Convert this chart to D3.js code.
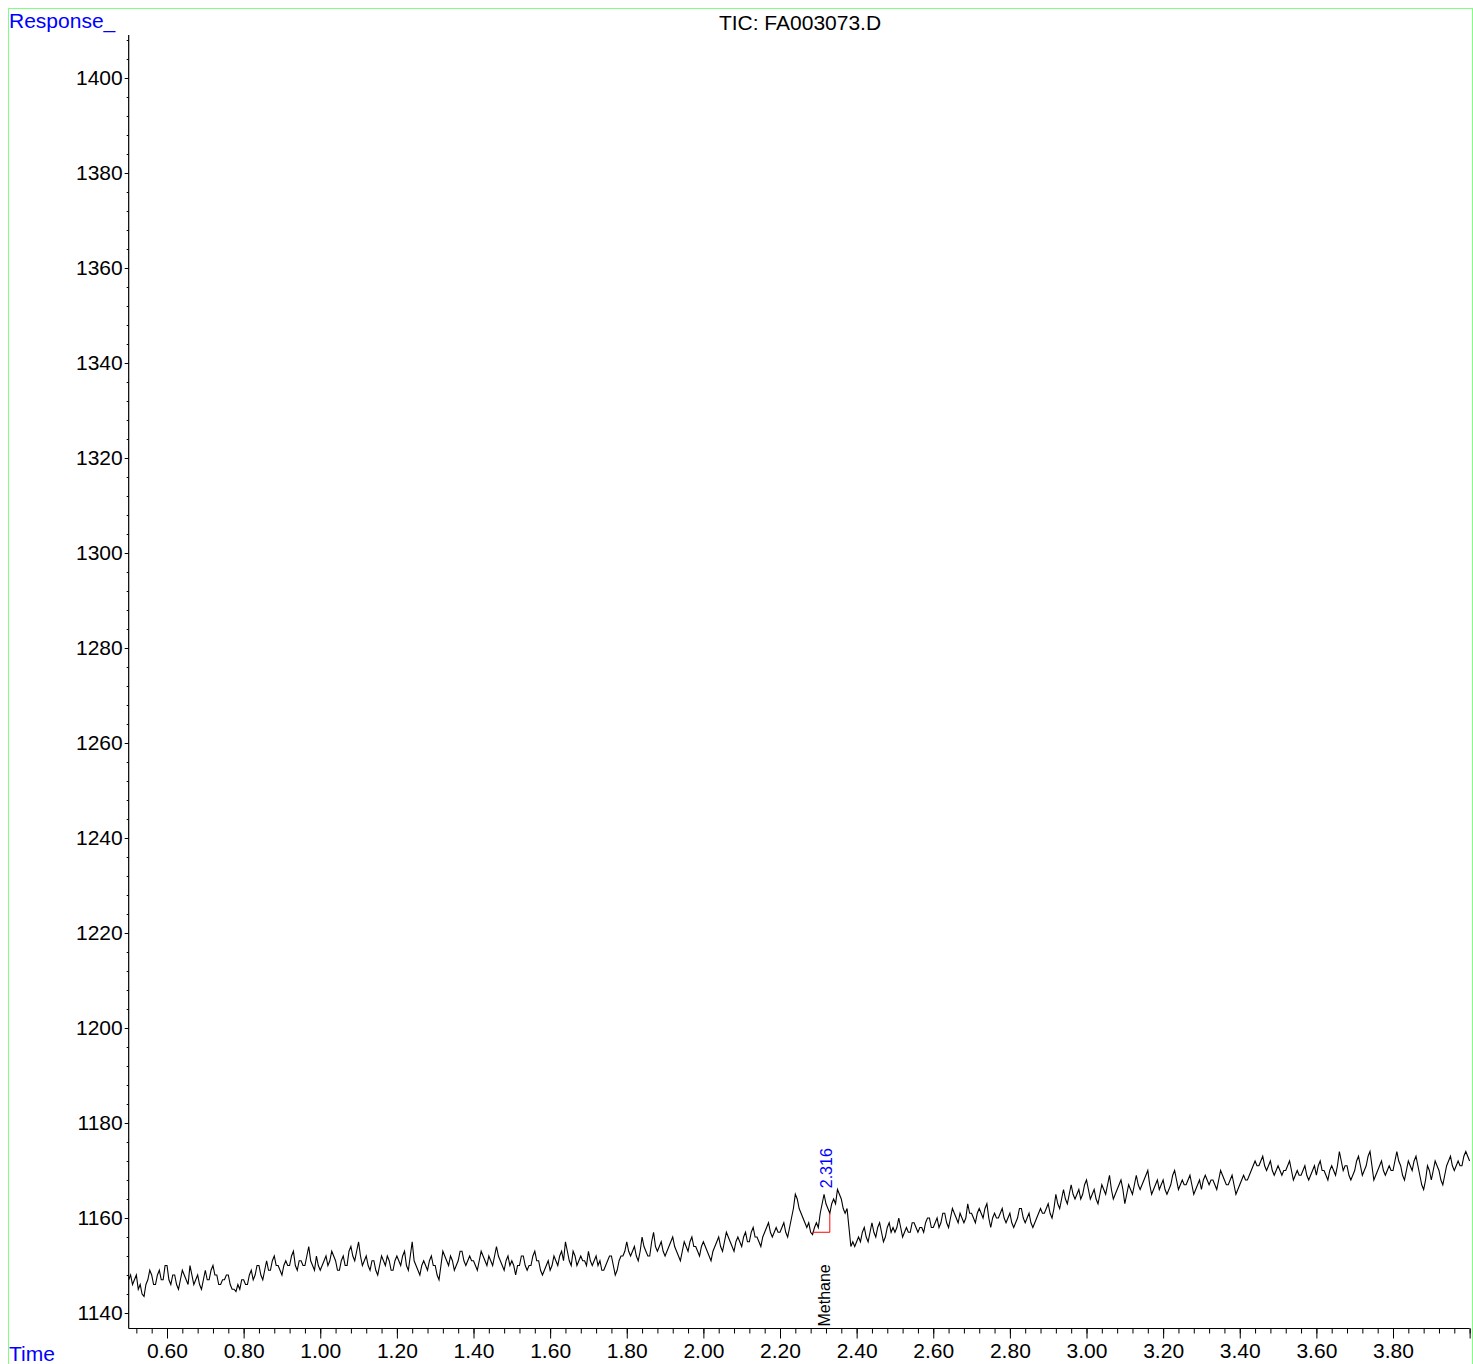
<!DOCTYPE html>
<html>
<head>
<meta charset="utf-8">
<script src="https://cdn.jsdelivr.net/npm/d3@7"></script>
<style>
  body { margin: 0; background: #fff; }
  svg text { font-family: "Liberation Sans", Arial, sans-serif; }
</style>
</head>
<body>
<div id="chart"></div>
<script>
// chromatogram: TIC sampled every 0.005 min from 0.50 to 4.00 (one row = 0.1 min)
const startTime = 0.5;
const timeStep = 0.005;
const response = [
  1147,1148,1146,1147,1148,1145,1146,1144,1143.5,1146,1147,1149,1148,1146,1146,1148,1149,1147,1147,1150,
  1150,1147,1146,1148,1148,1146,1145,1147,1149,1148,1147,1146,1150,1148,1146,1147,1148,1146,1145,1147,
  1149,1147,1147,1149,1150,1148,1148,1146,1146,1147,1147,1148,1148,1146,1145,1145,1144.5,1146,1145,1147,
  1147,1146,1146,1148,1149,1147,1148,1150,1150,1148,1147,1149,1151,1149,1149,1151,1152,1150,1150,1149,
  1148,1150,1151,1150,1150,1152,1153,1150,1149,1151,1151,1150,1150,1152,1154,1151,1150,1149,1152,1150,
  1149,1150,1151,1152,1150,1151,1153,1152,1151,1149,1149,1151,1152,1150,1150,1153,1154,1152,1151,1153,
  1155,1152,1150,1151,1152,1150,1149,1151,1151,1149,1148,1150,1152,1151,1150,1152,1151,1149,1149,1151,
  1152,1151,1150,1152,1153,1150,1149,1152,1155,1151,1150,1149,1148,1150,1151,1150,1149,1151,1152,1150,
  1150,1148,1147,1150,1153,1152,1151,1150,1152,1151,1149,1150,1151,1153,1153,1151,1150,1151,1152,1151,
  1151,1150,1149,1151,1153,1152,1151,1150,1152,1151,1150,1152,1154,1152,1151,1150,1149,1151,1152,1150,
  1151,1150,1148,1150,1150,1152,1152,1150,1149,1150,1150,1152,1153,1151,1151,1149,1148,1149,1150,1151,
  1149,1150,1152,1151,1150,1152,1153,1151,1155,1153,1151,1150,1153,1152,1150,1151,1152,1151,1151,1150,
  1153,1151,1150,1151,1152,1150,1151,1149,1149,1150,1151,1152,1152,1150,1148,1149,1151,1152,1152,1153,
  1155,1153,1152,1153,1154,1152,1151,1153,1156,1154,1153,1152,1152,1155,1157,1154,1153,1154,1155,1153,
  1152,1153,1154,1155,1156,1154,1153,1152,1151,1153,1155,1154,1153,1155,1156,1154,1154,1153,1152,1154,
  1155,1154,1153,1152,1151,1153,1154,1155,1156,1154,1153,1155,1157,1156,1155,1154,1153,1155,1156,1155,
  1154,1156,1157,1155,1155,1157,1158,1156,1156,1155,1154,1156,1157,1158,1159,1157,1156,1157,1158,1157,
  1157,1158,1159,1157,1156,1158,1160,1162,1165,1164,1162,1161,1160,1159,1158,1159,1157,1156.5,1158,1159,
  1158,1161,1163,1165,1163,1162,1161,1163,1164,1163,1166,1165,1164,1162,1161,1162,1158,1154,1155,1154,
  1155,1156,1155,1157,1158,1156,1155,1157,1159,1157,1156,1158,1159,1157,1155,1156,1158,1159,1157,1158,
  1157,1158,1160,1158,1156,1157,1158,1157,1157,1159,1159,1158,1157,1158,1158,1157,1159,1160,1160,1158,
  1158,1159,1160,1158,1159,1161,1161,1159,1158,1160,1162,1161,1160,1159,1161,1160,1159,1160,1163,1161,
  1161,1160,1159,1161,1162,1161,1160,1162,1163,1160,1158,1160,1161,1160,1160,1161,1162,1160,1159,1160,
  1161,1159,1158,1159,1160,1162,1162,1160,1159,1160,1161,1159,1158,1159,1160,1161,1162,1161,1161,1162,
  1163,1161,1160,1162,1165,1163,1162,1164,1166,1164,1163,1165,1167,1165,1164,1165,1166,1164,1165,1167,
  1168,1166,1164,1165,1166,1164,1163,1165,1167,1166,1165,1167,1169,1166,1164,1165,1166,1167,1168,1166,
  1163,1165,1167,1166,1165,1167,1169,1167,1166,1167,1168,1169,1170,1167,1165,1166,1167,1168,1166,1167,
  1168,1166,1165,1166,1167,1169,1170,1168,1166,1167,1168,1167,1167,1168,1169,1167,1165,1166,1167,1168,
  1166,1168,1169,1168,1167,1168,1168,1167,1166,1168,1170,1169,1168,1167,1167,1168,1169,1167,1165,1166,
  1167,1168,1169,1168,1168,1169,1170,1171,1172,1171,1171,1172,1173,1171,1170,1171,1172,1170,1169,1170,
  1171,1170,1169,1170,1170,1171,1172,1170,1168,1169,1170,1169,1169,1170,1171,1169,1168,1169,1170,1171,
  1169,1171,1172,1170,1170,1169,1168,1170,1171,1170,1169,1171,1174,1172,1170,1171,1171,1169,1168,1169,
  1170,1172,1173,1171,1169,1170,1171,1173,1174,1171,1168,1169,1170,1171,1172,1170,1169,1170,1171,1170,
  1170,1172,1174,1172,1171,1169,1168,1170,1172,1171,1170,1172,1173,1171,1169,1167,1166,1168,1171,1170,
  1168,1170,1172,1171,1170,1168,1167,1169,1171,1172,1173,1171,1170,1171,1172,1171,1171,1173,1174,1173,
  1172
];

const xMajorTicks = [0.6, 0.8, 1.0, 1.2, 1.4, 1.6, 1.8, 2.0, 2.2, 2.4, 2.6, 2.8, 3.0, 3.2, 3.4, 3.6, 3.8];
const yMajorTicks = [1140, 1160, 1180, 1200, 1220, 1240, 1260, 1280, 1300, 1320, 1340, 1360, 1380, 1400];

// integrated peak
const peakTime = 2.316;
const peakName = "Methane";
const peakStart = 2.284, peakEnd = 2.33;
const baseStart = 1157, baseEnd = 1157;
const peakEndValue = 1161;

const width = 1473, height = 1364;
const fontSize = 21;

const svg = d3.select("#chart")
  .append("svg")
  .attr("width", width)
  .attr("height", height);

// frame
svg.append("rect")
  .attr("x", 8.5).attr("y", 8.5)
  .attr("width", 1464).attr("height", 1370)
  .attr("fill", "none")
  .attr("stroke", "#80ff80")
  .attr("stroke-width", 1);

const x = d3.scaleLinear().domain([0.6, 3.8]).range([167, 1393]);
const y = d3.scaleLinear().domain([1140, 1400]).range([1313, 78]);

const xLeft = x(0.5), xRight = x(4.0);
const yBottom = 1328.5, yTop = 35;

// minor ticks
const xMinor = d3.range(0, 88).map(i => +(0.52 + i * 0.04).toFixed(2)).filter(t => t <= 4.0001);
const yMinor = d3.range(1140, 1409, 4);

svg.append("g")
  .attr("transform", `translate(0,${yBottom})`)
  .call(d3.axisBottom(x).tickValues(xMinor).tickSize(5).tickFormat(""))
  .call(g => g.select(".domain").remove());

svg.append("g")
  .attr("transform", `translate(0,${yBottom})`)
  .call(d3.axisBottom(x).tickValues(xMajorTicks.concat([4.0])).tickSize(10).tickPadding(5)
    .tickFormat(d => d >= 3.99 ? "" : d3.format(".2f")(d)))
  .call(g => g.select(".domain").remove())
  .call(g => g.selectAll("text").attr("font-size", fontSize).attr("fill", "#000")
    .attr("font-family", "Liberation Sans, Arial, sans-serif"));

svg.append("g")
  .attr("transform", `translate(${xLeft},0)`)
  .call(d3.axisLeft(y).tickValues(yMinor).tickSize(2).tickFormat(""))
  .call(g => g.select(".domain").remove());

svg.append("g")
  .attr("transform", `translate(${xLeft},0)`)
  .call(d3.axisLeft(y).tickValues(yMajorTicks).tickSize(4).tickPadding(2).tickFormat(d3.format("d")))
  .call(g => g.select(".domain").remove())
  .call(g => g.selectAll("text").attr("font-size", fontSize).attr("fill", "#000")
    .attr("font-family", "Liberation Sans, Arial, sans-serif"));

svg.selectAll(".tick line").attr("stroke", "#000");

// axis lines
svg.append("line")
  .attr("x1", xLeft).attr("x2", xLeft)
  .attr("y1", yTop).attr("y2", yBottom)
  .attr("stroke", "#000").attr("stroke-width", 1.2);
svg.append("line")
  .attr("x1", xLeft).attr("x2", xRight)
  .attr("y1", yBottom).attr("y2", yBottom)
  .attr("stroke", "#000").attr("stroke-width", 1.2);

// trace
const line = d3.line()
  .x((d, i) => x(startTime + i * timeStep))
  .y(d => y(d));

svg.append("path")
  .datum(response)
  .attr("d", line)
  .attr("fill", "none")
  .attr("stroke", "#000")
  .attr("stroke-width", 1.1);

// baseline of integrated peak
svg.append("path")
  .attr("d", d3.line()([
    [x(peakStart), y(baseStart)],
    [x(peakEnd), y(baseEnd)],
    [x(peakEnd), y(peakEndValue)]
  ]))
  .attr("fill", "none")
  .attr("stroke", "#ff0000")
  .attr("stroke-width", 1);

// labels
svg.append("text")
  .attr("transform", `translate(${x(peakTime) + 8},${y(1165) - 6}) rotate(-90)`)
  .attr("font-size", 16)
  .attr("fill", "#0000ff")
  .text(peakTime.toFixed(3));

svg.append("text")
  .attr("transform", `translate(${x(peakTime) + 6},${yBottom - 2}) rotate(-90)`)
  .attr("font-size", 16)
  .attr("fill", "#000")
  .text(peakName);

svg.append("text")
  .attr("x", 800).attr("y", 30)
  .attr("text-anchor", "middle")
  .attr("font-size", fontSize)
  .attr("fill", "#000")
  .text("TIC: FA003073.D");

svg.append("text")
  .attr("x", 9).attr("y", 28)
  .attr("font-size", fontSize)
  .attr("fill", "#0000ff")
  .text("Response_");

svg.append("text")
  .attr("x", 9).attr("y", 1361)
  .attr("font-size", fontSize)
  .attr("fill", "#0000ff")
  .text("Time");
</script>
</body>
</html>
